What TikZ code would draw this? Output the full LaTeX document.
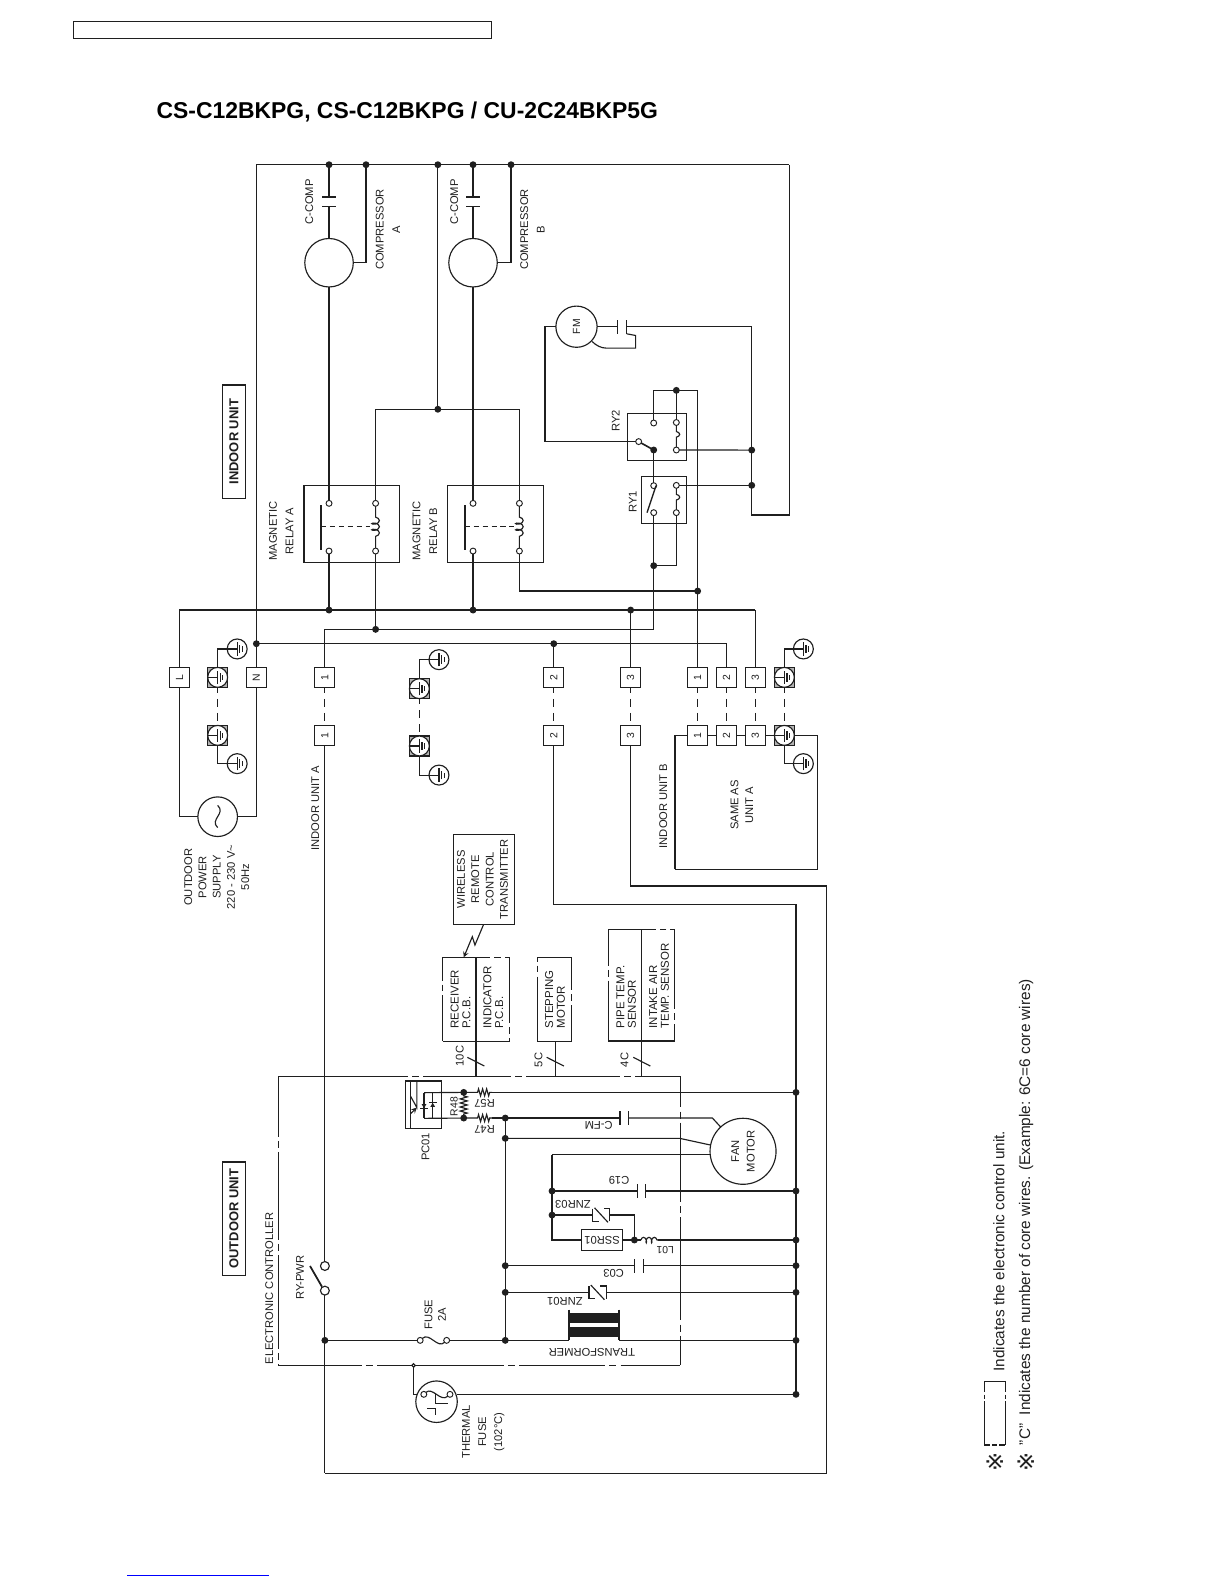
\documentclass[tikz,border=0pt]{standalone}
\usepackage{fontspec}
\setmainfont{Liberation Sans}
\newfontfamily\refmarkfont{DejaVu Sans}
\usepackage{tikz}
\usetikzlibrary{decorations.pathmorphing}
\usetikzlibrary{shapes.geometric}
\definecolor{wirecol}{gray}{0.12}
\newcommand{\smalltext}{\fontsize{8.3}{10.6}\selectfont}
\newcommand{\tighttext}{\fontsize{8.5}{8.7}\selectfont}
\newcommand{\tinytext}{\fontsize{7.7}{8.5}\selectfont}
\tikzstyle{schematic}=[x=0.75pt, y=-0.75pt, line width=0.85pt, draw=wirecol, color=wirecol,
                       % Default padding for labels.
                       every node/.style={inner sep=0, outer sep=0}]
\tikzstyle{jn}=[draw, circle, fill=wirecol, minimum size=4.2pt]
\tikzstyle{opn}=[draw, circle, fill=white, minimum size=4.4pt, line width=0.7pt]
\tikzstyle{bigopn}=[draw, circle, fill=white, minimum size=6.6pt]
\tikzstyle{term}=[draw, fill=white, minimum size=14.8pt, font=\tinytext, rotate=90]
\tikzstyle{gterm}=[draw, fill=gray!60, minimum size=14.8pt]
\tikzstyle{ering}=[draw, circle, fill=white, minimum size=14.8pt]
\tikzstyle{motor}=[draw, circle, fill=white, align=center]
\tikzstyle{relaybox}=[draw, fill=white, minimum height=57pt, minimum width=71pt]
\tikzstyle{hplate}=[fill=wirecol, minimum width=10.5pt, minimum height=0.9pt]
\tikzstyle{vplate}=[fill=wirecol, minimum width=0.9pt, minimum height=10.5pt]
\tikzstyle{lbl}=[font=\smalltext, align=center, rotate=90]
\tikzstyle{lblflip}=[font=\smalltext, align=center, rotate=180]
\tikzstyle{lbllong}=[font=\tighttext, align=left, rotate=90, anchor=west]
\tikzstyle{unitbox}=[draw, fill=white, line width=1pt, minimum width=84pt, minimum height=17pt, rotate=90,
                     font=\fontsize{9.6}{10}\bfseries\selectfont]
\tikzstyle{linkdash}=[dash pattern=on 6pt off 4.5pt, dash phase=2pt]
\tikzstyle{coilwire}=[decorate, decoration={coil, aspect=0.5, segment length=3.4pt, amplitude=2.5pt,
                      pre length=4.5pt, post length=4.5pt}]
\tikzstyle{coilbig}=[decorate, decoration={coil, aspect=0.5, segment length=4.6pt, amplitude=2.8pt,
                     pre length=8pt, post length=8pt}]
\tikzstyle{reswire}=[decorate, decoration={zigzag, segment length=3pt, amplitude=2.6pt,
                     pre length=0.5pt, post length=0.5pt}]
\newcommand{\earthsign}[1]{
    \draw (#1.west) -- (#1.center);
    \draw ([shift={(0pt,-5pt)}]#1.center) -- ([shift={(0pt,5pt)}]#1.center);
    \draw ([shift={(2pt,-3.1pt)}]#1.center) -- ([shift={(2pt,3.1pt)}]#1.center);
    \draw ([shift={(3.9pt,-1.9pt)}]#1.center) -- ([shift={(3.9pt,1.9pt)}]#1.center);
}
\newcommand{\earthterm}[3]{
    \node[gterm] (#1box) at (#2, #3) {};
    \node[ering] (#1) at (#2, #3) {};
    \earthsign{#1}
}
\newcommand{\varistor}[2]{
    \draw ([shift={(-6.4pt,4.7pt)}]#1,#2) -- ([shift={(-6.4pt,-4.7pt)}]#1,#2) -- ([shift={(-2pt,-4.7pt)}]#1,#2);
    \draw ([shift={(6.4pt,-4.7pt)}]#1,#2) -- ([shift={(6.4pt,4.7pt)}]#1,#2) -- ([shift={(2pt,4.7pt)}]#1,#2);
    \draw ([shift={(-5pt,5.4pt)}]#1,#2) -- ([shift={(5pt,-5.4pt)}]#1,#2);
}
\begin{document}
\begin{tikzpicture}[schematic]
    \useasboundingbox (0,0) rectangle (1212.3,1568.5);

    % header
    \node[draw, minimum width=310pt, minimum height=12.6pt] (hdrbox) at (279.5,29.7) {};
    \node[anchor=west, text=black, font=\fontsize{17}{20}\bfseries\selectfont] (title) at (155,111) {CS-C12BKPG, CS-C12BKPG / CU-2C24BKP5G};
    \node[unitbox] (indoor) at (231.5,437) {INDOOR UNIT};
    \node[unitbox] (outdoor) at (231.5,1206) {OUTDOOR UNIT};

    % bus and compressors
    \coordinate (busL) at (253.7,163);
    \coordinate (busR) at (781,163);
    \node[jn] (JcapA) at (325.6,163) {};
    \node[jn] (JcompA) at (362.2,163) {};
    \node[jn] (Jrelay) at (433.3,163) {};
    \node[jn] (JcapB) at (468.1,163) {};
    \node[jn] (JcompB) at (505.7,163) {};
    \node[hplate] (CaTop) at (325.6,195) {};
    \node[hplate] (CaBot) at (325.6,204.2) {};
    \node[hplate] (CbTop) at (468.1,195) {};
    \node[hplate] (CbBot) at (468.1,204.2) {};
    \node[motor, minimum size=36pt] (compA) at (325.6,260) {};
    \node[motor, minimum size=36pt] (compB) at (468.1,260) {};
    \draw (busL) -- (busR);
    \draw (JcapA) -- (CaTop);
    \draw (CaBot) -- (compA);
    \draw (JcapB) -- (CbTop);
    \draw (CbBot) -- (compB);
    \draw (compA.east) -| (JcompA);
    \draw (compB.east) -| (JcompB);
    \node[lbl] (lCa) at (306,200) {C-COMP};
    \node[lbl] (lCb) at (449.5,200) {C-COMP};
    \node[lbl] (lCompA) at (384,227) {COMPRESSOR\\[1.7pt]A};
    \node[lbl] (lCompB) at (527,227) {COMPRESSOR\\[1.7pt]B};

    % magnetic relays
    \node[relaybox] (relA) at (348.2,518.7) {};
    \node[relaybox] (relB) at (490.5,518.7) {};
    \node[opn] (cAt) at (325.6,498.1) {};
    \node[opn] (cAb) at (325.6,545.3) {};
    \node[opn] (kAt) at (371.7,498.1) {};
    \node[opn] (kAb) at (371.7,545.3) {};
    \node[opn] (cBt) at (468.1,498.1) {};
    \node[opn] (cBb) at (468.1,545.3) {};
    \node[opn] (kBt) at (514,498.1) {};
    \node[opn] (kBb) at (514,545.3) {};
    \coordinate (barAt) at (317.7,499.8);
    \coordinate (barAb) at (317.7,544.3);
    \coordinate (barAm) at (317.7,521.1);
    \coordinate (dashAe) at (366,521.1);
    \coordinate (barBt) at (460,499.8);
    \coordinate (barBb) at (460,544.3);
    \coordinate (barBm) at (460,521.1);
    \coordinate (dashBe) at (508.5,521.1);
    \draw[line width=1.2pt] (barAt) -- (barAb);
    \draw[line width=1.2pt] (barBt) -- (barBb);
    \draw[dashed, dash pattern=on 4pt off 2.6pt, line width=0.7pt] (barAm) -- (dashAe);
    \draw[dashed, dash pattern=on 4pt off 2.6pt, line width=0.7pt] (barBm) -- (dashBe);
    \draw[coilbig] (kAt) -- (kAb);
    \draw[coilbig] (kBt) -- (kBb);
    \draw (compA) -- (cAt);
    \draw (compB) -- (cBt);
    \node[lbl] (lRelA) at (278.3,525.5) {MAGNETIC\\[1.8pt]RELAY A};
    \node[lbl] (lRelB) at (420.4,525.5) {MAGNETIC\\[1.8pt]RELAY B};

    % fan motor and small relays
    \node[motor, minimum size=30.6pt, font=\tinytext, rotate=90] (fm) at (570.5,323.3) {FM};
    \node[vplate] (CfTop) at (610.9,323.3) {};
    \node[vplate] (CfBot) at (620.1,323.3) {};
    \node[draw, minimum width=44pt, minimum height=34.6pt] (ry2box) at (650.2,432.5) {};
    \node[draw, minimum width=33.6pt, minimum height=35pt] (ry1box) at (657.1,494.7) {};
    \node[opn] (ry2no) at (646.9,418.6) {};
    \node[opn] (ry2kt) at (669.3,418.1) {};
    \node[opn] (ry2kb) at (669.3,445.3) {};
    \node[opn] (ry2nc) at (632,437) {};
    \node[jn] (ry2com) at (646.9,445.3) {};
    \node[opn] (ry1t) at (646.9,480.6) {};
    \node[opn] (ry1b) at (646.9,507.3) {};
    \node[opn] (ry1kt) at (669.3,480.3) {};
    \node[opn] (ry1kb) at (669.3,507.3) {};
    \coordinate (ry1bladeT) at (649.2,480.6);
    \coordinate (ry1bladeB) at (640.3,507.3);
    \node[jn] (Jloop) at (669.3,386.3) {};
    \coordinate (loopL) at (646.9,386.3);
    \coordinate (loopR) at (690.4,386.3);
    \node[jn] (Jfan1) at (743.9,445.4) {};
    \node[jn] (Jfan2) at (743.9,480.3) {};
    \coordinate (retB) at (743.9,509.6);
    \coordinate (retR) at (781,509.6);
    \coordinate (fmTap) at (743.9,323.3);
    \coordinate (fmL) at (539.3,323.3);
    \coordinate (fmLb) at (539.3,437);
    \coordinate (capTail1) at (629,332);
    \coordinate (capTail2) at (629,344.5);
    \coordinate (capTail3) at (600,344.5);
    \coordinate (fmFoot) at (586,338);
    \node[jn] (Jry1) at (646.9,559.8) {};
    \coordinate (ry1bend) at (669.3,559.8);
    \draw (fm) -- (CfTop);
    \draw (CfBot) -- (fmTap) -- (retB) -- (retR) -- (busR);
    \draw (fm) -- (fmL) -- (fmLb) -- (ry2nc);
    \draw (CfBot.south) -- (capTail1) -- (capTail2) -- (capTail3) .. controls (595,344.5) and (590,342) .. (fmFoot);
    \draw (ry2no) -- (loopL) -- (loopR);
    \draw (ry2kt) -- (Jloop);
    \draw[coilwire] (ry2kt) -- (ry2kb);
    \draw[coilwire] (ry1kt) -- (ry1kb);
    \draw[line width=1.2pt] (ry2nc) -- (ry2com);
    \draw[line width=1pt] (ry1bladeT) -- (ry1bladeB);
    \draw (ry2com) -- (ry1t);
    \draw (ry2kb) -- (Jfan1);
    \draw (ry1kt) -- (Jfan2);
    \draw (ry1b) -- (Jry1);
    \draw (ry1kb) -- (ry1bend) -- (Jry1);
    \node[lbl] (lRy2) at (609.3,416.3) {RY2};
    \node[lbl] (lRy1) at (626.1,496.8) {RY1};

    % mains lines
    \coordinate (mainL) at (177.6,603.7);
    \coordinate (main3) at (747.4,603.7);
    \node[jn] (Jla) at (325.6,603.7) {};
    \node[jn] (Jlb) at (468.1,603.7) {};
    \node[jn] (Jl3) at (624.1,603.7) {};
    \coordinate (line1L) at (321.5,622.8);
    \node[jn] (Jka) at (371.7,622.8) {};
    \coordinate (line1R) at (646.9,622.8);
    \node[jn] (Jn) at (253.7,637) {};
    \node[jn] (Jn2) at (548,637) {};
    \coordinate (line2R) at (719,637);
    \node[jn] (Jkb) at (690.4,584.9) {};
    \coordinate (kbBend) at (514,584.9);
    \node[jn] (Jkl) at (433.3,405) {};
    \coordinate (klL) at (371.7,405);
    \coordinate (klR) at (514,405);
    \draw (Jrelay) -- (Jkl);
    \draw (klL) -- (klR);
    \draw (klL) -- (kAt);
    \draw (klR) -- (kBt);
    \draw[line width=1.1pt] (cAb) -- (Jla);
    \draw (cBb) -- (Jlb);
    \draw (kAb) -- (Jka);
    \draw (kBb) -- (kbBend) -- (Jkb);
    \draw (Jry1) -- (line1R);
    \draw (line1L) -- (line1R);
    \draw (mainL) -- (main3);
    \draw (Jn) -- (line2R);
    \draw (loopR) -- (Jkb);

    % terminals
    \node[term] (tL) at (177.6,670.3) {L};
    \node[term] (tN) at (253.7,670.3) {N};
    \node[term] (t1o) at (321.5,670.3) {1};
    \node[term] (t1i) at (321.5,727.7) {1};
    \node[term] (t2o) at (548,670.3) {2};
    \node[term] (t2i) at (548,727.7) {2};
    \node[term] (t3o) at (624.1,670.3) {3};
    \node[term] (t3i) at (624.1,727.7) {3};
    \node[term] (tB1o) at (690.4,670.3) {1};
    \node[term] (tB2o) at (719,670.3) {2};
    \node[term] (tB3o) at (747.4,670.3) {3};
    \node[term] (tB1i) at (690.4,727.7) {1};
    \node[term] (tB2i) at (719,727.7) {2};
    \node[term] (tB3i) at (747.4,727.7) {3};
    \draw (mainL) -- (tL);
    \draw (busL) -- (tN);
    \draw (line1L) -- (t1o);
    \draw (Jn2) -- (t2o);
    \draw (Jl3) -- (t3o);
    \draw[line width=1.1pt] (Jkb) -- (tB1o);
    \draw (line2R) -- (tB2o);
    \draw (main3) -- (tB3o);
    \draw[linkdash] (t1o) -- (t1i);
    \draw[linkdash] (t2o) -- (t2i);
    \draw[linkdash] (t3o) -- (t3i);
    \draw[linkdash] (tB1o) -- (tB1i);
    \draw[linkdash] (tB2o) -- (tB2i);
    \draw[linkdash] (tB3o) -- (tB3i);

    % earth points
    \earthterm{eLt}{215.4}{670.3}
    \earthterm{eLb}{215.4}{727.7}
    \earthterm{eMt}{415}{681.5}
    \earthterm{eMb}{415}{738.2}
    \earthterm{eRt}{776.2}{670.3}
    \earthterm{eRb}{776.2}{727.7}
    \node[ering] (gLt) at (234.7,642.2) {};
    \node[ering] (gLb) at (234.7,755.7) {};
    \node[ering] (gMt) at (434.4,652.8) {};
    \node[ering] (gMb) at (434.4,767) {};
    \node[ering] (gRt) at (795,642.2) {};
    \node[ering] (gRb) at (795,755.7) {};
    \earthsign{gLt}
    \earthsign{gLb}
    \earthsign{gMt}
    \earthsign{gMb}
    \earthsign{gRt}
    \earthsign{gRb}
    \draw (eLtbox) |- (gLt);
    \draw (eLbbox) |- (gLb);
    \draw (eMtbox) |- (gMt);
    \draw (eMbbox) |- (gMb);
    \draw (eRtbox) |- (gRt);
    \draw (eRbbox) |- (gRb);
    \draw[linkdash] (eLtbox) -- (eLbbox);
    \draw[linkdash] (eMtbox) -- (eMbbox);
    \draw[linkdash] (eRtbox) -- (eRbbox);

    % supply
    \node[motor, minimum size=29.4pt] (ac) at (215.4,808.2) {};
    \coordinate (acL) at (177.6,808.2);
    \coordinate (acR) at (253.7,808.2);
    \coordinate (tildeT) at (215.4,797);
    \coordinate (tildeB) at (215.4,819);
    \draw (tL) -- (acL) -- (ac);
    \draw (tN) -- (acR) -- (ac);
    \draw (tildeT) .. controls (224,805) and (207,811) .. (tildeB);
    \node[lbl] (lSupply) at (214.5,868) {OUTDOOR\\POWER\\SUPPLY\\220 - 230 V\textasciitilde\\50Hz};
    \node[lbl] (lUnitA) at (312,799.6) {INDOOR UNIT A};

    % unit B
    \coordinate (ubTL) at (667.9,727.7);
    \coordinate (ubTR) at (808.8,727.7);
    \coordinate (ubBL) at (667.9,860.3);
    \coordinate (ubBR) at (808.8,860.3);
    \draw (ubBL) -- (ubTL) -- (tB1i);
    \draw (tB1i) -- (tB2i);
    \draw (tB2i) -- (tB3i);
    \draw (tB3i) -- (eRbbox);
    \draw (eRbbox) -- (ubTR) -- (ubBR) -- (ubBL);
    \node[lbl] (lUnitB) at (656.4,797.6) {INDOOR UNIT B};
    \node[lbl] (lSame) at (734.2,796.6) {SAME AS\\[0.4pt]UNIT A};

    % long runs to the controller
    \coordinate (run2a) at (548,894.9);
    \coordinate (run2b) at (787.7,894.9);
    \coordinate (run3a) at (624.1,876.8);
    \coordinate (run3b) at (817.5,876.8);
    \coordinate (run3c) at (817.5,1458);
    \coordinate (run1b) at (321.5,1458);
    \node[jn] (Je1) at (787.7,1081) {};
    \node[jn] (Je2) at (787.7,1178.6) {};
    \node[jn] (Je3) at (787.7,1227.1) {};
    \node[jn] (Je4) at (787.7,1252.5) {};
    \node[jn] (Je5) at (787.7,1278.9) {};
    \node[jn] (Je6) at (787.7,1326.4) {};
    \node[jn] (Je7) at (787.7,1379.8) {};
    \draw (t2i) -- (run2a) -- (run2b) -- (Je7);
    \draw (t3i) -- (run3a) -- (run3b) -- (run3c) -- (run1b);

    % electronic controller
    \coordinate (ctrlNW) at (275.5,1065);
    \coordinate (ctrlNE) at (673,1065);
    \coordinate (ctrlSE) at (673,1351.2);
    \coordinate (ctrlSW) at (275.5,1351.2);
    \draw[dash pattern=on 96.4pt off 3pt on 5.2pt off 3pt on 65.2pt off 3pt on 5.2pt off 3pt on 69.5pt off 3pt on 5.2pt off 3pt on 100pt off 0pt] (ctrlNW) -- (ctrlNE);
    \draw[dash pattern=on 23.2pt off 3pt on 5.2pt off 3pt on 59.2pt off 3pt on 5.2pt off 3pt on 76.5pt off 3pt on 5.2pt off 3pt on 60pt off 0pt] (ctrlNE) -- (ctrlSE);
    \draw[dash pattern=on 62pt off 3pt on 5.2pt off 3pt on 94.5pt off 3pt on 5.2pt off 3pt on 63.8pt off 3pt on 5.2pt off 3pt on 60pt off 0pt] (ctrlSW) -- (ctrlSE);
    \draw[dash pattern=on 45pt off 3pt on 5.2pt off 3pt on 65.2pt off 3pt on 5.2pt off 3pt on 69.8pt off 3pt on 5.2pt off 3pt on 30pt off 0pt] (ctrlNW) -- (ctrlSW);
    \node[lbl] (lCtrl) at (266.5,1275) {ELECTRONIC CONTROLLER};
    \node[bigopn] (swT) at (321.5,1252.8) {};
    \node[bigopn] (swB) at (321.5,1277.2) {};
    \coordinate (bladeT) at (306.8,1252.8);
    \coordinate (bladeB) at (318.6,1273.3);
    \draw (t1i) -- (swT);
    \draw[line width=1.3pt] (bladeT) -- (bladeB);
    \draw (swB) -- (run1b);
    \node[lbl] (lSw) at (297,1264.3) {RY-PWR};

    % fuse line
    \node[jn] (Jf) at (321.5,1326.4) {};
    \node[opn] (fuL) at (415.8,1326.4) {};
    \node[opn] (fuR) at (442,1326.4) {};
    \node[jn] (Jb) at (500,1326.4) {};
    \node[lbl] (lFuse) at (430.7,1301) {FUSE\\[-0.6pt]2A};
    \draw (Jf) -- (fuL);
    \draw (fuL) .. controls (425,1318) and (433,1335) .. (fuR);
    \draw (fuR) -- (Jb);

    % transformer
    \node[fill=wirecol, minimum width=37pt, minimum height=7.4pt] (trU) at (587.8,1304.6) {};
    \node[fill=wirecol, minimum width=37pt, minimum height=7.4pt] (trL) at (587.8,1317.8) {};
    \coordinate (trLT) at (563,1296);
    \coordinate (trLB) at (563,1326.4);
    \coordinate (trRT) at (612.6,1296);
    \coordinate (trRB) at (612.6,1326.4);
    \draw (trLT) -- (trLB);
    \draw (trRT) -- (trRB);
    \draw (Jb) -- (trLB);
    \draw (trRB) -- (Je6);
    \node[lblflip] (lTr) at (585.7,1338.3) {TRANSFORMER};

    % ZNR01, C03
    \node[jn] (Jz1) at (500,1278.9) {};
    \node[jn] (Jc3) at (500,1252.5) {};
    \coordinate (z1L) at (582.8,1278.9);
    \coordinate (z1R) at (600.1,1278.9);
    \draw (Jz1) -- (z1L);
    \draw (z1R) -- (Je5);
    \varistor{591.4}{1278.9}
    \node[lblflip] (lZ1) at (559,1287.5) {ZNR01};
    \node[vplate] (C3a) at (628,1252.5) {};
    \node[vplate] (C3b) at (636.8,1252.5) {};
    \draw (Jc3) -- (C3a);
    \draw (C3b) -- (Je4);
    \node[lblflip] (lC3) at (607.3,1260.3) {C03};

    % SSR01, ZNR03, C19
    \node[draw, minimum width=30.5pt, minimum height=15.4pt, font=\smalltext, rotate=180] (ssr) at (595.8,1227.1) {SSR01};
    \node[jn] (Js1) at (627.8,1227.1) {};
    \coordinate (Ls1) at (634.2,1227.1);
    \coordinate (Ls2) at (651.2,1227.1);
    \coordinate (ssrL) at (546.3,1227.1);
    \node[jn] (Jz3) at (546.3,1202.4) {};
    \node[jn] (Jc19) at (546.3,1178.6) {};
    \coordinate (mtrB) at (546.3,1142.6);
    \coordinate (z3L) at (586.5,1202.4);
    \coordinate (z3R) at (603.5,1202.4);
    \coordinate (z3E) at (627.8,1202.4);
    \draw (mtrB) -- (ssrL) -- (ssr);
    \draw (ssr) -- (Js1) -- (Ls1);
    \draw[decorate, decoration={coil, aspect=0.5, segment length=4pt, amplitude=2pt}] (Ls1) -- (Ls2);
    \draw (Ls2) -- (Je3);
    \draw (Jz3) -- (z3L);
    \draw (z3R) -- (z3E) -- (Js1);
    \varistor{595}{1202.4}
    \node[lblflip] (lZ3) at (567,1192) {ZNR03};
    \node[lblflip, font=\tinytext] (lL1) at (658.4,1237.5) {L01};
    \node[vplate] (C19a) at (631,1178.6) {};
    \node[vplate] (C19b) at (639,1178.6) {};
    \draw (Jc19) -- (C19a);
    \draw (C19b) -- (Je2);
    \node[lblflip] (lC19) at (612.6,1168) {C19};

    % fan motor of the outdoor unit
    \node[motor, minimum size=49pt, font=\smalltext, rotate=90] (fan) at (735.3,1139.3) {FAN\\[0.8pt]MOTOR};
    \node[jn] (Jc) at (500,1106.4) {};
    \node[jn] (Jd) at (500,1126.5) {};
    \node[vplate] (Cfma) at (613.6,1106.4) {};
    \node[vplate] (Cfmb) at (621.8,1106.4) {};
    \coordinate (fmA) at (705,1106.4);
    \coordinate (fmB) at (672.7,1126.5);
    \coordinate (fmC) at (702.6,1133);
    \coordinate (fmD) at (702.6,1142.6);
    \draw (Jc) -- (Cfma);
    \draw (Cfmb) -- (fmA) -- (fan);
    \draw (Jd) -- (fmB) -- (fmC);
    \draw (mtrB) -- (fmD);
    \draw (Jc) -- (Jd);
    \draw (Jd) -- (Jc3);
    \draw (Jc3) -- (Jz1);
    \draw (Jz1) -- (Jb);
    \node[lblflip] (lCfm) at (592.5,1113.5) {C-FM};

    % PC01
    \node[draw, fill=white, minimum width=26.6pt, minimum height=35.2pt] (pc) at (418.9,1093.2) {};
    \node[jn] (Jr1) at (458.9,1081) {};
    \node[jn] (Jr2) at (458.9,1106.4) {};
    \coordinate (pcT) at (419.6,1081.3);
    \coordinate (pcB) at (419.6,1106.7);
    \coordinate (pcT2) at (428.2,1081.3);
    \coordinate (pcB2) at (428.2,1106.7);
    \coordinate (r7a) at (471.9,1081);
    \coordinate (r7b) at (487,1081);
    \coordinate (r8a) at (471.9,1106.4);
    \coordinate (r8b) at (487,1106.4);
    \coordinate (barT) at (406.4,1069.7);
    \coordinate (barB) at (406.4,1116.6);
    \coordinate (trnA) at (406.4,1085);
    \coordinate (trnB) at (412.5,1096);
    \coordinate (trnC) at (412.5,1069.7);
    \coordinate (trnD) at (406.4,1102);
    \draw (pcT) -- (Jr1) -- (r7a);
    \draw (pcB) -- (Jr2) -- (r8a);
    \draw[reswire] (r7a) -- (r7b);
    \draw[reswire] (r8a) -- (r8b);
    \draw[reswire] (Jr1) -- (Jr2);
    \draw (r7b) -- (Je1);
    \draw (r8b) -- (Jc);
    \draw (pcT) -- (pcB);
    \draw[line width=0.6pt] (pcT2) -- (pcB2);
    \draw (barT) -- (barB);
    \draw (trnA) -- (trnB) -- (trnC);
    \draw[-stealth] (trnD) -- (trnB);
    \node[fill=wirecol, isosceles triangle, isosceles triangle apex angle=60, minimum size=3pt, shape border rotate=-90] (dA) at (419.6,1094) {};
    \node[fill=wirecol, isosceles triangle, isosceles triangle apex angle=60, minimum size=3pt, shape border rotate=90] (dB) at (428.2,1094) {};
    \node[hplate, minimum width=6pt] (dAb) at (419.6,1096.8) {};
    \node[hplate, minimum width=6pt] (dBb) at (428.2,1091.2) {};
    \node[lbl] (lPc) at (421,1135) {PC01};
    \node[lbl, font=\tinytext] (lR48) at (449.3,1095) {R48};
    \node[lblflip] (lR57) at (479.5,1092) {R57};
    \node[lblflip] (lR47) at (479.5,1118) {R47};

    % thermal fuse
    \node[motor, minimum size=30.8pt] (tf) at (432,1387.1) {};
    \node[circle, draw, fill=white, minimum size=2.6pt] (ctrlTap) at (409.3,1351.2) {};
    \coordinate (tfIn) at (409.3,1379.8);
    \node[opn] (tfL) at (419.4,1379.8) {};
    \node[opn] (tfR) at (445.3,1379.8) {};
    \coordinate (tfLedge) at (413,1379.8);
    \coordinate (tfRedge) at (452,1379.8);
    \coordinate (bmA) at (431,1379.8);
    \coordinate (bmB) at (431,1388.7);
    \coordinate (bmC) at (443.5,1388.7);
    \coordinate (bmD) at (423,1393.7);
    \coordinate (bmE) at (431,1393.7);
    \coordinate (bmF) at (431,1400.3);
    \draw (ctrlTap) -- (tfIn) -- (tfLedge);
    \draw (tfL) .. controls (428,1372) and (436,1388) .. (tfR);
    \draw (tfRedge) -- (Je7);
    \draw (bmA) -- (bmB) -- (bmC);
    \draw (bmD) -- (bmE) -- (bmF);
    \node[lbl] (lTf) at (478.3,1417) {THERMAL\\[1.4pt]FUSE\\[1.4pt](102°C)};

    % panels below the remote
    \node[draw, minimum width=45pt, minimum height=67pt, fill=white] (wireless) at (479,870.2) {};
    \node[lbl] (lWl) at (477.5,870.2) {WIRELESS\\REMOTE\\CONTROL\\TRANSMITTER};
    \node[draw, dash pattern=on 52pt off 3pt on 5pt off 3pt, minimum width=49.5pt, minimum height=62pt] (rcv) at (471,989) {};
    \node[draw, dash pattern=on 52pt off 3pt on 5pt off 3pt, minimum width=25pt, minimum height=62pt] (stp) at (548.5,989) {};
    \node[draw, dash pattern=on 62pt off 3pt on 5pt off 3pt, minimum width=49.2pt, minimum height=82.7pt] (snr) at (634.8,975) {};
    \coordinate (rcvMidT) at (471,947.7);
    \coordinate (rcvMidB) at (471,1030.3);
    \coordinate (snrMidT) at (634.7,919.7);
    \coordinate (snrMidB) at (634.7,1030.3);
    \coordinate (w10) at (471,1065);
    \coordinate (w5) at (549.6,1030.3);
    \coordinate (w5b) at (549.6,1065);
    \coordinate (w4) at (634.7,1065);
    \draw (rcvMidT) -- (rcvMidB) -- (w10);
    \draw (w5) -- (w5b);
    \draw (snrMidT) -- (snrMidB) -- (w4);
    \coordinate (sl10a) at (462.5,1046.3);
    \coordinate (sl10b) at (479.3,1054.9);
    \coordinate (sl5a) at (541,1046.3);
    \coordinate (sl5b) at (558,1054.9);
    \coordinate (sl4a) at (626.7,1046.3);
    \coordinate (sl4b) at (643.5,1054.9);
    \draw (sl10a) -- (sl10b);
    \draw (sl5a) -- (sl5b);
    \draw (sl4a) -- (sl4b);
    \coordinate (wz0) at (478.3,915.4);
    \coordinate (wz1) at (470,935.2);
    \coordinate (wz2) at (467.4,926.9);
    \coordinate (wz3) at (458.9,947.4);
    \draw[-stealth] (wz0) -- (wz1) -- (wz2) -- (wz3);
    \node[lbllong] (lRcv) at (455.8,1017.7) {RECEIVER\\P.C.B.};
    \node[lbllong] (lInd) at (488.2,1017.7) {INDICATOR\\P.C.B.};
    \node[lbllong] (lStp) at (549.3,1017.7) {STEPPING\\MOTOR};
    \node[lbllong] (lPipe) at (619.7,1017.7) {PIPE TEMP.\\SENSOR};
    \node[lbllong] (lAir) at (652.3,1017.7) {INTAKE AIR\\TEMP. SENSOR};
    \node[lbl] (l10C) at (455,1045) {10C};
    \node[lbl] (l5C) at (533,1049) {5C};
    \node[lbl] (l4C) at (618,1049) {4C};

    % notes
    \node[rotate=90, font=\refmarkfont\fontsize{17}{17}\selectfont] (mark1) at (985.3,1447) {※};
    \node[rotate=90, font=\refmarkfont\fontsize{17}{17}\selectfont] (mark2) at (1015.3,1447) {※};
    \coordinate (kNW) at (974,1366.7);
    \coordinate (kNE) at (995,1366.7);
    \coordinate (kSE) at (995,1430);
    \coordinate (kSW) at (974,1430);
    \draw (kNW) -- (kNE);
    \draw[dash pattern=on 8pt off 2pt on 3pt off 2pt on 40pt off 0pt] (kNE) -- (kSE);
    \draw[dash pattern=on 8pt off 2pt on 3pt off 2pt on 40pt off 0pt] (kNW) -- (kSW);
    \draw[dash pattern=on 4pt off 1.6pt] (kSW) -- (kSE);
    \node[rotate=90, anchor=west, font=\fontsize{11.4}{14}\selectfont] (note1) at (988.5,1357.4) {Indicates the electronic control unit.};
    \node[rotate=90, anchor=west, font=\fontsize{11.4}{14}\selectfont] (note2) at (1015.5,1430) {"C"\ \ Indicates the number of core wires. (Example: 6C=6 core wires)};

    % link at the foot of the page
    \coordinate (linkL) at (125.7,1558.7);
    \coordinate (linkR) at (266.2,1558.7);
    \draw[blue, line width=0.8pt] (linkL) -- (linkR);
\end{tikzpicture}
\end{document}
